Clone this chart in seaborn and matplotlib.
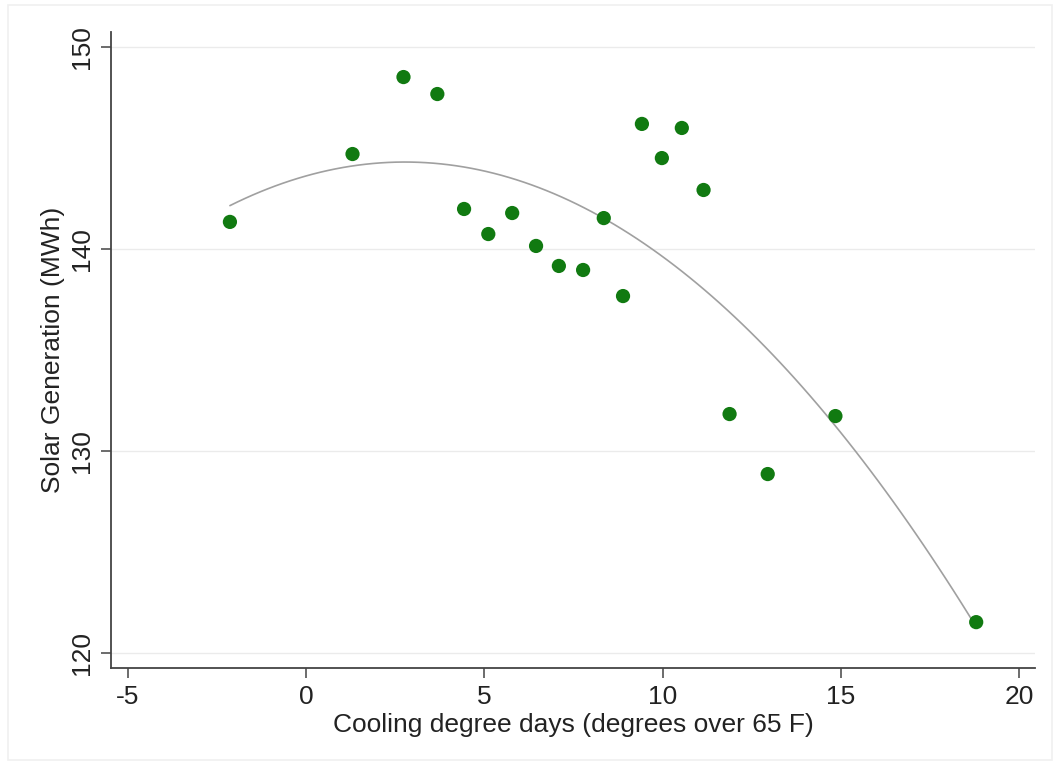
import matplotlib
matplotlib.use("Agg")
import matplotlib.pyplot as plt
import seaborn as sns
import pandas as pd
from matplotlib.patches import Rectangle

# Cooling degree days vs solar generation
cooling_days = [-2.14, 1.30, 2.73, 3.68, 4.43, 5.11, 5.78, 6.45, 7.09, 7.77,
                8.35, 8.89, 9.42, 9.98, 10.54, 11.15, 11.88, 12.95, 14.85, 18.80]
solar_mwh = [141.34, 144.70, 148.51, 147.67, 141.98, 140.74, 141.78, 140.15, 139.16, 138.96,
             141.53, 137.67, 146.19, 144.50, 145.99, 142.92, 131.83, 128.86, 131.73, 121.53]
x_ticks = [-5, 0, 5, 10, 15, 20]
y_ticks = [120, 130, 140, 150]

df = pd.DataFrame({"cdd": cooling_days, "solar": solar_mwh})

sns.set_theme(style="white")
plt.rcParams['font.family'] = ['Liberation Sans', 'DejaVu Sans']
plt.rcParams['axes.unicode_minus'] = False

fig = plt.figure(figsize=(10.58, 7.70), dpi=100)
ax = fig.add_axes([111 / 1058, 102 / 770, 924 / 1058, 636 / 770])

# faint outer frame like the Stata graph region
fig.patches.append(Rectangle((8 / 1058, 10 / 770), 1044 / 1058, 755 / 770,
                             transform=fig.transFigure, fill=False,
                             edgecolor="#f0f0f0", linewidth=1.2))

sns.regplot(data=df, x="cdd", y="solar", order=2, ci=None, truncate=True, ax=ax,
            scatter_kws={"s": 105, "color": "#117a11", "edgecolor": "none", "alpha": 1, "zorder": 3},
            line_kws={"color": "#a0a0a0", "linewidth": 1.2, "zorder": 2})

ax.set_xlim(-5.477, 20.45)
ax.set_ylim(119.26, 150.74)
ax.set_xticks(x_ticks)
ax.set_yticks(y_ticks)
ax.set_yticklabels([str(v) for v in y_ticks], rotation=90, va="center")
ax.yaxis.grid(True, color="#ebebeb", linewidth=1.0)
ax.xaxis.grid(False)
ax.set_axisbelow(True)

for side in ["top", "right"]:
    ax.spines[side].set_visible(False)
for side in ["left", "bottom"]:
    ax.spines[side].set_color("#444444")
    ax.spines[side].set_linewidth(1.3)

ax.tick_params(axis="both", direction="out", length=7, width=1.1, color="#444444",
               labelsize=19, labelcolor="#222222", left=True, bottom=True, pad=5)
ax.set_xlabel("Cooling degree days (degrees over 65 F)", fontsize=19, color="#222222", labelpad=3)
ax.set_ylabel("Solar Generation (MWh)", fontsize=19, color="#222222", labelpad=4)

fig.savefig("out.png", dpi=100)
